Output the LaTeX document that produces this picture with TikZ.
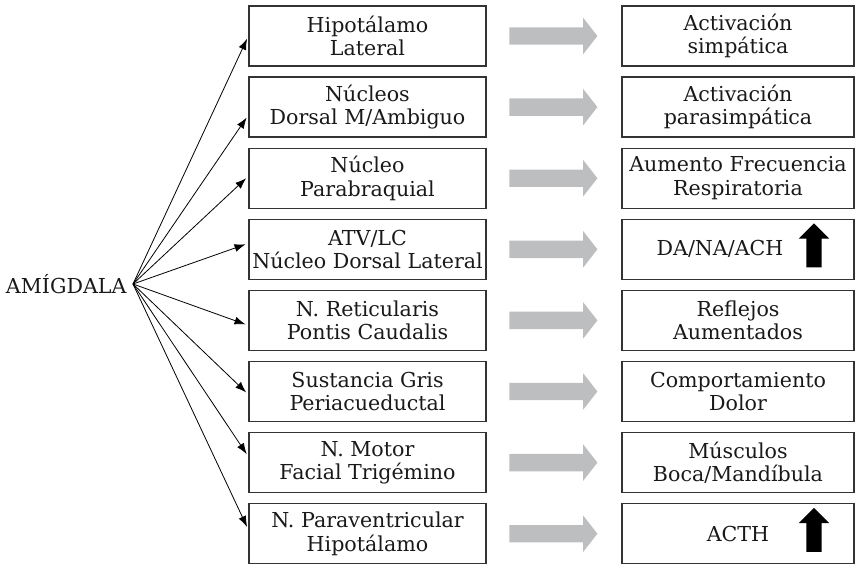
\documentclass[tikz,border=0pt]{standalone}
\usepackage{fontspec}
\setmainfont{DejaVu Serif}
\usetikzlibrary{arrows.meta,positioning,shapes.arrows}
\definecolor{boxline}{HTML}{333333}
\definecolor{flowgray}{HTML}{BDBEC0}
\tikzset{
  nbox/.style={draw=boxline, line width=1.3pt, minimum width=237pt, minimum height=60pt,
    align=center, inner sep=0pt, text=black!90, font=\fontsize{20.6}{23.5}\selectfont},
  rbox/.style={nbox, minimum width=232pt},
  flow/.style={single arrow, fill=flowgray, minimum height=88pt, minimum width=36pt,
    single arrow head extend=9.5pt, single arrow tip angle=104, inner xsep=0pt, inner ysep=8.5pt},
  upmark/.style={single arrow, fill=black, rotate=90, minimum height=44pt, minimum width=30pt,
    single arrow head extend=7.5pt, single arrow tip angle=90, inner xsep=0pt, inner ysep=7.5pt},
  link/.style={-{Latex[length=11pt,width=8pt]}, line width=0.8pt, shorten >=3pt}
}
\begin{document}
\begin{tikzpicture}[x=1pt, y=-1pt]
\useasboundingbox (0,0) rectangle (855,563);

% Source
\coordinate (hub) at (133,284);
\node[left=3pt of hub, text=black!90, font=\fontsize{20.6}{23.5}\selectfont] (amy) {AMÍGDALA};

% Rows: nucleus -> effect
\foreach \i/\a/\b in {
    1/{Hipotálamo\\Lateral}/{Activación\\simpática},
    2/{Núcleos\\Dorsal M/Ambiguo}/{Activación\\parasimpática},
    3/{Núcleo\\Parabraquial}/{Aumento Frecuencia\\Respiratoria},
    4/{ATV/LC\\Núcleo Dorsal Lateral}/{},
    5/{N. Reticularis\\Pontis Caudalis}/{Reflejos\\Aumentados},
    6/{Sustancia Gris\\Periacueductal}/{Comportamiento\\Dolor},
    7/{N. Motor\\Facial Trigémino}/{Músculos\\Boca/Mandíbula},
    8/{N. Paraventricular\\Hipotálamo}/{ACTH}} {
    \pgfmathsetmacro{\yc}{36+71.1*(\i-1)}
    \node[nbox] (l\i) at (367.5,\yc) {\a};
    \node[flow] (g\i) at (550,\yc) {};
    \node[rbox] (r\i) at (738,\yc) {\b};
}

% Connectors from the amygdala (tips a bit off centre)
\foreach \i/\d in {1/0, 2/-8, 3/2, 4/6, 5/-5, 6/-3, 7/6, 8/4} {
    \draw[link] (hub) -- ([yshift=\d pt]l\i.west);
}

% Increase marks
\node[text=black!90, font=\fontsize{20.6}{23.5}\selectfont] (da) at ([xshift=-18pt]r4.center) {DA/NA/ACH};
\node[upmark] (up4) at ([xshift=76pt]r4.center) {};
\node[upmark] (up8) at ([xshift=76pt]r8.center) {};

\end{tikzpicture}
\end{document}
